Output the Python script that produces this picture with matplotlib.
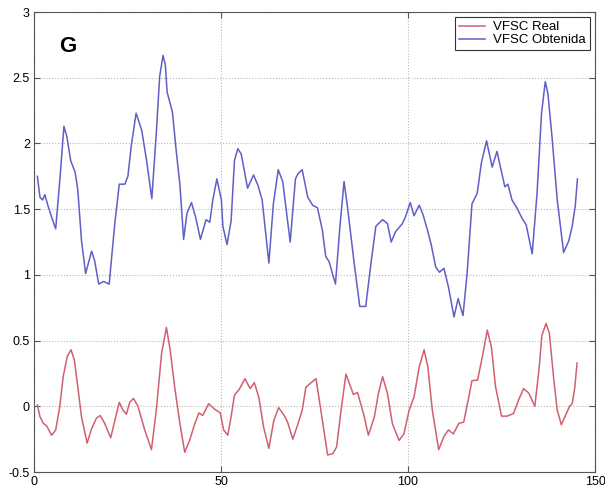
import matplotlib.pyplot as plt

# VFSC Real (red)
real_x = [0.9, 1.6, 2.5, 3.4, 4.7, 5.8, 6.9, 7.8, 8.9, 9.9, 10.8, 11.7, 12.7, 14.2,
          15.4, 16.7, 17.7, 18.9, 20.5, 21.6, 22.8, 23.8, 24.7, 25.6, 26.6, 27.8,
          29.6, 31.4, 32.7, 34.1, 35.4, 36.4, 37.6, 39.0, 40.3, 41.6, 42.9, 44.1,
          45.1, 46.7, 48.2, 49.8, 50.7, 51.8, 52.7, 53.6, 54.9, 56.4, 57.8, 58.9,
          60.1, 61.4, 62.8, 64.1, 65.4, 66.9, 67.8, 69.2, 70.5, 71.7, 72.7, 74.1,
          75.4, 76.7, 78.5, 79.9, 80.9, 82.1, 83.4, 84.5, 85.4, 86.5, 88.1, 89.4,
          91.0, 92.1, 93.2, 94.5, 95.8, 97.6, 98.9, 100.3, 101.6, 103.0, 104.3,
          105.3, 106.5, 108.2, 109.6, 110.8, 112.1, 113.6, 114.9, 116.1, 117.1,
          118.6, 119.9, 121.2, 122.3, 123.4, 125.0, 126.5, 128.2, 129.6, 130.9,
          132.3, 133.9, 135.0, 135.8, 136.9, 137.8, 138.9, 139.9, 141.0, 142.1,
          143.2, 143.9, 144.6, 145.2]
real_y = [0.01, -0.08, -0.13, -0.15, -0.22, -0.18, 0.0, 0.225, 0.38, 0.43, 0.35, 0.15,
          -0.08, -0.28, -0.17, -0.09, -0.07, -0.13, -0.24, -0.11, 0.03, -0.03, -0.06,
          0.03, 0.06, 0.0, -0.18, -0.33, -0.03, 0.40, 0.60, 0.43, 0.15, -0.13, -0.35,
          -0.26, -0.14, -0.05, -0.07, 0.02, -0.02, -0.05, -0.18, -0.22, -0.08, 0.085,
          0.13, 0.21, 0.135, 0.18, 0.07, -0.16, -0.32, -0.11, -0.01, -0.07, -0.12,
          -0.25, -0.14, -0.03, 0.145, 0.18, 0.21, -0.03, -0.37, -0.36, -0.31, -0.03,
          0.245, 0.16, 0.09, 0.105, -0.055, -0.22, -0.08, 0.10, 0.225, 0.10, -0.13,
          -0.26, -0.21, -0.03, 0.07, 0.30, 0.43, 0.30, -0.03, -0.33, -0.23, -0.18,
          -0.21, -0.13, -0.12, 0.05, 0.195, 0.20, 0.38, 0.58, 0.45, 0.15, -0.075,
          -0.075, -0.055, 0.05, 0.135, 0.10, 0.0, 0.275, 0.54, 0.63, 0.555, 0.225,
          -0.03, -0.14, -0.07, 0.0, 0.02, 0.145, 0.33]

# VFSC Obtenida (blue)
obt_x = [0.9, 1.6, 2.3, 2.9, 3.8, 4.7, 5.8, 6.9, 8.0, 8.8, 9.8, 11.0, 11.7, 12.7,
         13.8, 15.4, 16.2, 17.3, 18.6, 20.1, 21.6, 22.8, 24.3, 25.1, 26.0, 27.3,
         28.8, 30.1, 31.5, 32.7, 33.6, 34.5, 35.1, 35.6, 37.0, 38.0, 39.0, 40.0,
         40.9, 42.1, 43.2, 44.5, 46.0, 47.0, 47.8, 48.9, 50.1, 50.5, 51.6, 52.7,
         53.6, 54.5, 55.4, 57.1, 58.7, 59.9, 61.0, 62.8, 64.0, 65.3, 66.5, 68.5,
         69.9, 70.6, 71.7, 73.2, 74.5, 75.8, 77.1, 78.0, 78.9, 80.6, 81.8, 82.9,
         83.8, 85.6, 87.1, 88.7, 90.1, 91.4, 93.2, 94.5, 95.5, 96.7, 98.5, 99.3,
         100.6, 101.6, 103.0, 104.0, 105.2, 106.2, 107.4, 108.4, 109.6, 110.8,
         112.3, 113.4, 114.7, 115.8, 117.1, 118.5, 119.6, 121.0, 122.5, 123.8,
         124.7, 125.9, 126.7, 127.8, 129.1, 130.5, 131.6, 133.2, 134.5, 135.7,
         136.7, 137.4, 138.5, 139.9, 141.6, 143.0, 143.9, 144.7, 145.3]
obt_y = [1.75, 1.59, 1.57, 1.61, 1.52, 1.44, 1.35, 1.72, 2.13, 2.05, 1.87, 1.78, 1.65,
         1.26, 1.01, 1.18, 1.11, 0.93, 0.95, 0.93, 1.39, 1.69, 1.69, 1.75, 1.98, 2.23,
         2.10, 1.87, 1.58, 2.08, 2.51, 2.67, 2.60, 2.39, 2.24, 1.95, 1.69, 1.27, 1.47,
         1.55, 1.44, 1.27, 1.42, 1.40, 1.57, 1.73, 1.57, 1.37, 1.23, 1.41, 1.87, 1.96,
         1.92, 1.66, 1.76, 1.68, 1.57, 1.09, 1.54, 1.80, 1.71, 1.25, 1.73, 1.77, 1.80,
         1.59, 1.53, 1.51, 1.34, 1.14, 1.10, 0.93, 1.37, 1.71, 1.52, 1.09, 0.76, 0.76,
         1.09, 1.37, 1.42, 1.39, 1.25, 1.33, 1.39, 1.44, 1.55, 1.45, 1.53, 1.46, 1.34,
         1.23, 1.06, 1.02, 1.05, 0.91, 0.68, 0.82, 0.69, 1.01, 1.54, 1.62, 1.85, 2.02,
         1.82, 1.94, 1.82, 1.67, 1.69, 1.57, 1.51, 1.43, 1.38, 1.16, 1.62, 2.23, 2.47,
         2.38, 2.05, 1.57, 1.17, 1.26, 1.37, 1.52, 1.73]

x_ticks = [0, 50, 100, 150]
y_ticks = [-0.5, 0, 0.5, 1, 1.5, 2, 2.5, 3]

plt.rcParams['font.family'] = ['Liberation Sans', 'DejaVu Sans']

fig = plt.figure(figsize=(6.05, 4.94), dpi=100)
ax = fig.add_axes([0.0562, 0.0445, 0.9273, 0.9312])

ax.plot(real_x, real_y, color='#d06070', linewidth=1.1, label='VFSC Real')
ax.plot(obt_x, obt_y, color='#5f5fc8', linewidth=1.1, label='VFSC Obtenida')

ax.set_xlim(0, 150)
ax.set_ylim(-0.5, 3)
ax.set_xticks(x_ticks)
ax.set_yticks(y_ticks)
ax.set_yticklabels(['-0.5', '0', '0.5', '1', '1.5', '2', '2.5', '3'])
ax.grid(True, linestyle=':', color='#b8b8b8', linewidth=0.8)
ax.tick_params(direction='in', length=4, labelsize=9, top=True, right=True,
               color='#555555', pad=3)
for s in ax.spines.values():
    s.set_color('#555555')
    s.set_linewidth(0.8)

leg = ax.legend(loc='upper right', bbox_to_anchor=(0.991, 0.989), borderaxespad=0,
                fontsize=9.5, fancybox=False, edgecolor='#333333', framealpha=1,
                handlelength=2.0, handletextpad=0.6, borderpad=0.3, labelspacing=0.05)
leg.get_frame().set_linewidth(0.8)

ax.text(0.0606, 0.924, 'G', transform=ax.transAxes, fontsize=16, fontweight='bold',
        ha='center', va='center')

fig.savefig('out.png', dpi=100)
